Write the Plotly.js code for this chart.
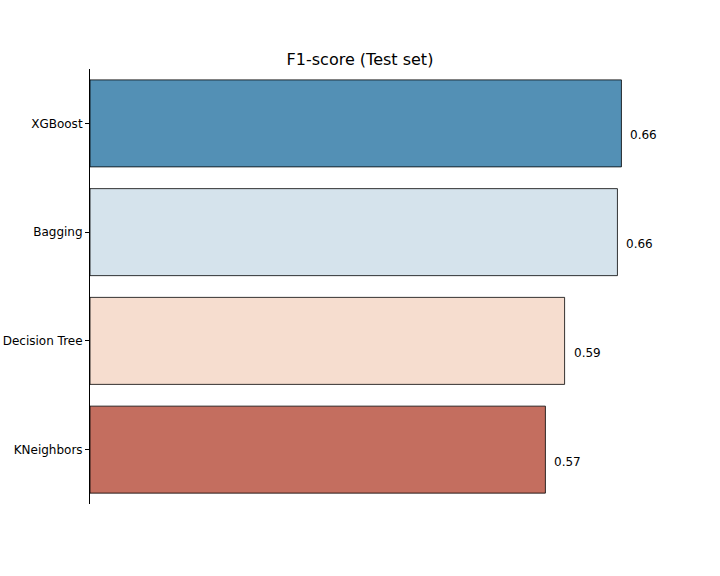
<!DOCTYPE html>
<html>
<head>
<script src="https://cdn.plot.ly/plotly-3.0.1.min.js"></script>
<style>body{margin:0;background:#fff}</style>
</head>
<body>
<div id="chart" style="width:720px;height:576px"></div>
<script>
const models = ['XGBoost', 'Bagging', 'Decision Tree', 'KNeighbors'];
const f1Scores = [0.664, 0.659, 0.593, 0.569];
const barColors = ['#5390b5', '#d5e3ec', '#f6ddcf', '#c46e5f'];

const trace = {
  type: 'bar',
  orientation: 'h',
  x: f1Scores,
  y: models,
  width: 0.8,
  marker: { color: barColors, line: { color: '#000', width: 0.8 } },
  hoverinfo: 'skip',
};

const labels = models.map((m, i) => ({
  x: f1Scores[i],
  y: m,
  text: f1Scores[i].toFixed(2),
  showarrow: false,
  xanchor: 'left',
  yanchor: 'middle',
  xshift: 7,
  yshift: -12,
  font: { size: 12, color: '#000' },
}));

const layout = {
  width: 720,
  height: 576,
  paper_bgcolor: '#fff',
  plot_bgcolor: '#fff',
  font: { family: 'DejaVu Sans, sans-serif', color: '#000' },
  margin: { l: 90, r: 72, t: 69, b: 72 },
  title: { text: 'F1-score (Test set)', x: 0.5, xanchor: 'center', y: 0.897, yanchor: 'middle', font: { size: 16 } },
  xaxis: { range: [0, Math.max(...f1Scores) * 1.05], visible: false, showgrid: false, zeroline: false },
  yaxis: {
    autorange: 'reversed',
    range: [3.5, -0.5],
    showline: true, linecolor: '#000', linewidth: 1,
    ticks: 'outside', ticklen: 4, tickcolor: '#000',
    tickfont: { size: 12 }, showgrid: false, zeroline: false,
  },
  annotations: labels,
  showlegend: false,
  bargap: 0.2,
};

Plotly.newPlot('chart', [trace], layout, { displayModeBar: false, staticPlot: true });
</script>
</body>
</html>
